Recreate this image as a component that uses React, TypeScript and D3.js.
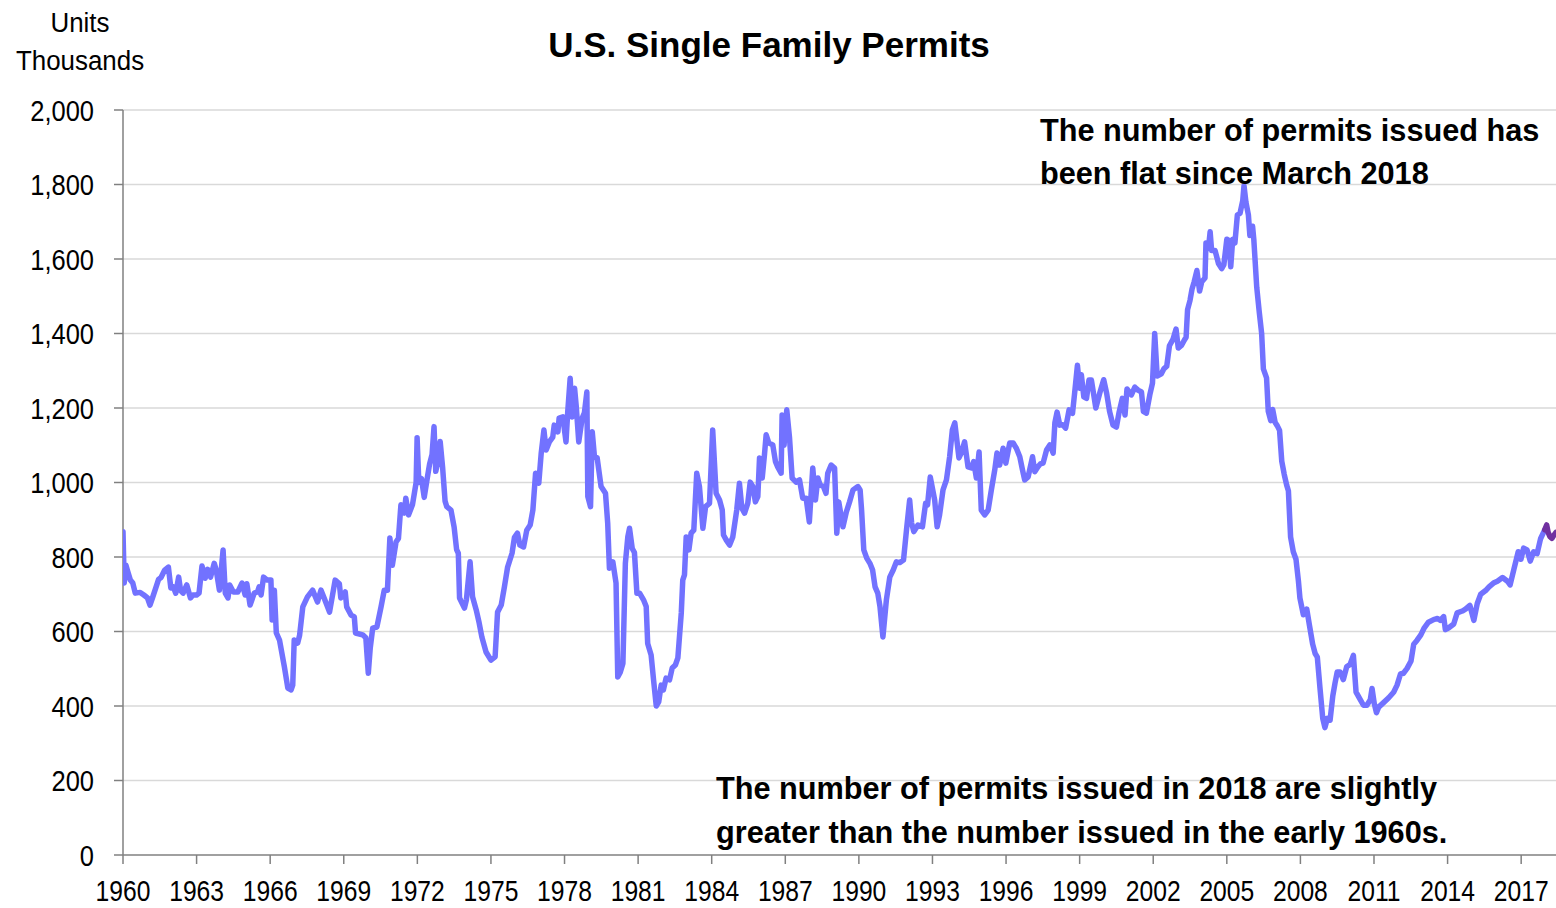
import React, { useEffect, useRef } from 'react';
import * as d3 from 'd3';

type Pt = [number, number]; // [decimal year, thousands of units]

const permits1960s: Pt[] = [
  [1960.0, 868], [1960.05, 730], [1960.12, 778], [1960.2, 760], [1960.3, 738], [1960.4, 730], [1960.5, 703],
  [1960.7, 705], [1960.85, 698], [1961.0, 690], [1961.1, 671], [1961.2, 690], [1961.35, 720], [1961.45, 740],
  [1961.55, 745], [1961.7, 765], [1961.85, 773], [1961.95, 717], [1962.05, 720], [1962.15, 703], [1962.27, 746],
  [1962.35, 710], [1962.45, 703], [1962.6, 725], [1962.75, 690], [1962.85, 698], [1963.0, 698], [1963.1, 703],
  [1963.22, 776], [1963.35, 743], [1963.45, 767], [1963.57, 746], [1963.72, 783], [1963.8, 765], [1963.93, 711],
  [1964.08, 819], [1964.17, 703], [1964.28, 690], [1964.35, 725], [1964.5, 706], [1964.68, 706], [1964.85, 730],
  [1964.98, 698], [1965.05, 728], [1965.18, 671], [1965.35, 703], [1965.48, 706], [1965.55, 720], [1965.63, 698],
  [1965.73, 746], [1965.88, 738], [1966.03, 738], [1966.08, 631], [1966.17, 711], [1966.25, 596], [1966.38, 577],
  [1966.58, 505], [1966.72, 448], [1966.85, 443], [1966.92, 456], [1966.98, 577], [1967.12, 569], [1967.2, 590],
  [1967.33, 666], [1967.52, 693], [1967.73, 711], [1967.93, 679], [1968.07, 711], [1968.2, 690], [1968.42, 652],
  [1968.65, 738], [1968.82, 728], [1968.88, 690], [1969.06, 706], [1969.12, 666], [1969.3, 644], [1969.43, 639],
  [1969.48, 596], [1969.77, 591], [1969.9, 583],
];

const permits1970s: Pt[] = [
  [1970.0, 488], [1970.08, 556], [1970.18, 609], [1970.35, 612], [1970.52, 666], [1970.65, 711], [1970.78, 711],
  [1970.88, 851], [1970.98, 778], [1971.13, 840], [1971.23, 850], [1971.33, 940], [1971.47, 918], [1971.53, 958],
  [1971.64, 913], [1971.8, 940], [1971.88, 972], [1971.95, 1000], [1971.99, 1120], [1972.06, 1000], [1972.17, 1010],
  [1972.28, 960], [1972.4, 1010], [1972.5, 1050], [1972.6, 1075], [1972.68, 1150], [1972.75, 1030], [1972.85, 1060],
  [1972.93, 1110], [1973.03, 1040], [1973.13, 950], [1973.2, 935], [1973.37, 926], [1973.5, 880], [1973.6, 820],
  [1973.67, 810], [1973.72, 690], [1973.92, 663], [1974.0, 685], [1974.15, 787], [1974.25, 693], [1974.4, 658],
  [1974.52, 623], [1974.63, 585], [1974.8, 545], [1975.0, 523], [1975.17, 532], [1975.27, 652], [1975.42, 671],
  [1975.55, 720], [1975.68, 773], [1975.86, 810], [1975.96, 853], [1976.08, 864], [1976.18, 832], [1976.33, 827],
  [1976.46, 872], [1976.6, 886], [1976.71, 926], [1976.82, 1025], [1976.95, 998], [1977.05, 1079], [1977.16, 1141],
  [1977.25, 1087], [1977.38, 1109], [1977.52, 1122], [1977.58, 1154], [1977.73, 1136], [1977.78, 1173],
  [1977.93, 1176], [1978.06, 1109], [1978.13, 1189], [1978.23, 1280], [1978.31, 1176], [1978.41, 1253],
  [1978.48, 1203], [1978.58, 1109], [1978.72, 1173], [1978.81, 1187], [1978.91, 1243], [1978.95, 962],
  [1979.06, 935], [1979.13, 1136], [1979.22, 1069], [1979.33, 1066], [1979.49, 989], [1979.67, 971],
  [1979.76, 891], [1979.83, 770], [1979.97, 787],
];

const permits1980s: Pt[] = [
  [1980.1, 730], [1980.17, 478], [1980.27, 490], [1980.38, 514], [1980.48, 783], [1980.58, 854], [1980.65, 877],
  [1980.76, 823], [1980.85, 812], [1980.95, 703], [1981.06, 703], [1981.22, 685], [1981.33, 667], [1981.39, 568],
  [1981.53, 537], [1981.63, 470], [1981.74, 400], [1981.84, 411], [1981.94, 456], [1982.03, 443], [1982.14, 475],
  [1982.28, 470], [1982.39, 502], [1982.52, 510], [1982.62, 529], [1982.76, 650], [1982.82, 738], [1982.89, 752],
  [1982.96, 854], [1983.07, 819], [1983.16, 864], [1983.27, 872], [1983.39, 1025], [1983.5, 989], [1983.64, 877],
  [1983.75, 935], [1983.91, 944], [1984.04, 1141], [1984.18, 971], [1984.32, 953], [1984.43, 926], [1984.48, 859],
  [1984.59, 846], [1984.73, 832], [1984.86, 854], [1985.02, 926], [1985.13, 998], [1985.23, 931], [1985.34, 918],
  [1985.47, 944], [1985.57, 1001], [1985.68, 989], [1985.78, 948], [1985.88, 962], [1985.95, 1066], [1986.06, 1012],
  [1986.15, 1074], [1986.22, 1128], [1986.33, 1106], [1986.49, 1101], [1986.6, 1056], [1986.69, 1042],
  [1986.83, 1025], [1986.87, 1181], [1986.95, 1100], [1987.06, 1195], [1987.17, 1122], [1987.28, 1012],
  [1987.44, 1001], [1987.58, 1007], [1987.71, 958], [1987.85, 958], [1987.98, 894], [1988.12, 1039],
  [1988.23, 953], [1988.33, 1012], [1988.42, 993], [1988.55, 990], [1988.66, 971], [1988.73, 1025],
  [1988.87, 1047], [1989.01, 1039], [1989.1, 864], [1989.18, 948], [1989.35, 881], [1989.49, 921],
  [1989.62, 948], [1989.76, 980], [1989.96, 989],
];

const permits1990s: Pt[] = [
  [1990.05, 980], [1990.11, 926], [1990.2, 819], [1990.32, 797], [1990.45, 783], [1990.56, 765], [1990.66, 720],
  [1990.77, 703], [1990.86, 667], [1990.98, 585], [1991.12, 684], [1991.26, 746], [1991.4, 765], [1991.53, 787],
  [1991.66, 785], [1991.82, 792], [1991.94, 872], [1992.07, 953], [1992.15, 891], [1992.24, 868], [1992.41, 886],
  [1992.59, 881], [1992.72, 944], [1992.8, 940], [1992.91, 1015], [1993.09, 953], [1993.19, 881], [1993.29, 913],
  [1993.43, 980], [1993.57, 1007], [1993.7, 1069], [1993.81, 1141], [1993.91, 1160], [1994.08, 1066],
  [1994.18, 1080], [1994.31, 1109], [1994.45, 1042], [1994.59, 1039], [1994.68, 1056], [1994.79, 1012],
  [1994.9, 1082], [1994.99, 926], [1995.13, 913], [1995.27, 926], [1995.4, 980], [1995.54, 1034], [1995.63, 1079],
  [1995.74, 1047], [1995.88, 1092], [1995.99, 1052], [1996.15, 1106], [1996.29, 1106], [1996.42, 1092],
  [1996.56, 1069], [1996.67, 1034], [1996.76, 1007], [1996.9, 1015], [1997.08, 1069], [1997.17, 1029],
  [1997.3, 1042], [1997.4, 1050], [1997.51, 1052], [1997.65, 1087], [1997.79, 1101], [1997.92, 1079],
  [1997.99, 1160], [1998.08, 1189], [1998.19, 1154], [1998.31, 1155], [1998.43, 1146], [1998.57, 1195],
  [1998.71, 1186], [1998.8, 1243], [1998.91, 1315], [1999.0, 1253], [1999.07, 1289], [1999.17, 1230],
  [1999.28, 1226], [1999.38, 1275], [1999.48, 1275], [1999.66, 1200], [1999.82, 1240], [1999.98, 1276],
];

const permits2000s: Pt[] = [
  [2000.1, 1240], [2000.22, 1191], [2000.36, 1154], [2000.5, 1149], [2000.61, 1189], [2000.74, 1226],
  [2000.85, 1181], [2000.93, 1251], [2001.11, 1235], [2001.25, 1256], [2001.38, 1248], [2001.52, 1243],
  [2001.6, 1191], [2001.72, 1186], [2001.86, 1235], [2001.97, 1267], [2002.06, 1400], [2002.16, 1286],
  [2002.33, 1292], [2002.43, 1305], [2002.55, 1312], [2002.66, 1367], [2002.81, 1385], [2002.93, 1412],
  [2003.02, 1361], [2003.15, 1368], [2003.25, 1380], [2003.34, 1390], [2003.4, 1464], [2003.5, 1489],
  [2003.58, 1519], [2003.67, 1539], [2003.78, 1569], [2003.89, 1514], [2003.98, 1539], [2004.11, 1549],
  [2004.15, 1643], [2004.25, 1628], [2004.32, 1673], [2004.38, 1623], [2004.52, 1623], [2004.66, 1588],
  [2004.79, 1574], [2004.88, 1585], [2005.0, 1653], [2005.08, 1650], [2005.16, 1579], [2005.24, 1653],
  [2005.33, 1643], [2005.43, 1718], [2005.54, 1723], [2005.65, 1757], [2005.7, 1797], [2005.78, 1752],
  [2005.88, 1718], [2005.94, 1663], [2006.05, 1688], [2006.1, 1653], [2006.22, 1524], [2006.32, 1459],
  [2006.42, 1400], [2006.49, 1305], [2006.62, 1281], [2006.69, 1191], [2006.79, 1166], [2006.87, 1196],
  [2006.97, 1161], [2007.06, 1152], [2007.15, 1140], [2007.24, 1057], [2007.34, 1022], [2007.44, 993],
  [2007.51, 978], [2007.6, 854], [2007.71, 814], [2007.82, 794], [2007.92, 735], [2007.98, 690], [2008.12, 645],
  [2008.26, 660], [2008.37, 616], [2008.5, 566], [2008.6, 541], [2008.69, 531], [2008.8, 447], [2008.91, 367],
  [2009.0, 342], [2009.1, 367], [2009.21, 362], [2009.32, 427], [2009.41, 461], [2009.5, 491], [2009.62, 491],
  [2009.75, 471], [2009.89, 506],
];

const permits2010s: Pt[] = [
  [2010.02, 511], [2010.16, 536], [2010.27, 437], [2010.4, 422], [2010.57, 402], [2010.71, 402], [2010.85, 417],
  [2010.92, 447], [2011.01, 407], [2011.1, 382], [2011.19, 397], [2011.39, 409], [2011.6, 422], [2011.8, 437],
  [2011.94, 456], [2012.08, 486], [2012.2, 488], [2012.35, 501], [2012.51, 521], [2012.62, 566], [2012.75, 576],
  [2012.91, 591], [2013.05, 610], [2013.22, 625], [2013.43, 632], [2013.59, 635], [2013.7, 630], [2013.84, 640],
  [2013.91, 605], [2014.05, 610], [2014.25, 620], [2014.39, 650], [2014.6, 655], [2014.73, 660], [2014.91, 670],
  [2015.07, 630], [2015.21, 675], [2015.35, 700], [2015.55, 710], [2015.69, 720], [2015.87, 730], [2016.03, 735],
  [2016.24, 745], [2016.44, 735], [2016.55, 725], [2016.71, 769], [2016.88, 814], [2016.99, 794], [2017.1, 824],
  [2017.24, 819], [2017.37, 789], [2017.51, 814], [2017.65, 809], [2017.79, 849], [2017.96, 873],
];

// highlighted 2018 segment (drawn in purple)
const permits2018: Pt[] = [
  [2017.96, 873], [2018.04, 886], [2018.1, 866], [2018.17, 855], [2018.25, 850], [2018.33, 858], [2018.42, 866],
];

const yTicks = [0, 200, 400, 600, 800, 1000, 1200, 1400, 1600, 1800, 2000];
const xTickYears = [1960, 1963, 1966, 1969, 1972, 1975, 1978, 1981, 1984, 1987, 1990, 1993, 1996, 1999, 2002, 2005, 2008, 2011, 2014, 2017];

const title = 'U.S. Single Family Permits';
const unitLabel = ['Units', 'Thousands'];
const noteTop = ['The number of permits issued has', 'been flat since March 2018'];
const noteBottom = ['The number of permits issued in 2018 are slightly', 'greater than the number issued in the early 1960s.'];

const FONT = "'Liberation Sans Narrow', 'Arial Narrow', 'Liberation Sans', Arial, sans-serif";

type Sel = d3.Selection<SVGGElement, unknown, null, undefined> | d3.Selection<SVGSVGElement, unknown, null, undefined>;

// text squeezed horizontally, to mimic the narrow face of the original
function addText(parent: Sel, x: number, y: number, str: string, size: number, opts: { anchor?: string; bold?: boolean; sx?: number; dy?: string } = {}) {
  const g = (parent as any).append('g').attr('transform', `translate(${x},${y}) scale(${opts.sx ?? 1},1)`);
  g.append('text')
    .attr('dy', opts.dy ?? null)
    .style('text-anchor', opts.anchor ?? 'start')
    .style('font-family', FONT)
    .style('font-size', `${size}px`)
    .style('font-weight', opts.bold ? 'bold' : 'normal')
    .style('fill', 'black')
    .text(str);
}

const PermitsChart: React.FC = () => {
  const svgRef = useRef<SVGSVGElement>(null);

  useEffect(() => {
    if (!svgRef.current) return;
    const width = 1556;
    const height = 908;
    const margin = { top: 110, right: 0, bottom: 53, left: 123 };

    const svg = d3.select(svgRef.current).attr('width', width).attr('height', height);
    svg.selectAll('*').remove();

    svg.append('rect').attr('width', width).attr('height', height).style('fill', 'white');

    const x = d3.scaleLinear().domain([1960, 2018.42]).range([margin.left, width - margin.right]);
    const y = d3.scaleLinear().domain([0, 2000]).range([height - margin.bottom, margin.top]);

    svg.append('defs').append('clipPath').attr('id', 'plot-clip')
      .append('rect')
      .attr('x', margin.left).attr('y', 0)
      .attr('width', width - margin.left - margin.right).attr('height', height);

    // gridlines
    svg.append('g').selectAll('line')
      .data(yTicks.filter(d => d > 0))
      .enter().append('line')
      .attr('x1', margin.left).attr('x2', width - margin.right)
      .attr('y1', d => y(d)).attr('y2', d => y(d))
      .style('stroke', '#d9d9d9').style('stroke-width', 1.5);

    // y axis
    const yAxis = svg.append('g');
    yAxis.append('line')
      .attr('x1', x(1960)).attr('x2', x(1960))
      .attr('y1', y(0)).attr('y2', y(2000))
      .style('stroke', '#808080').style('stroke-width', 1.5);
    yAxis.selectAll('.ytick')
      .data(yTicks).enter().append('line')
      .attr('x1', margin.left - 9).attr('x2', margin.left)
      .attr('y1', d => y(d)).attr('y2', d => y(d))
      .style('stroke', '#808080').style('stroke-width', 1.5);
    yTicks.forEach(d => addText(yAxis, 94, y(d), d3.format(',')(d), 30, { anchor: 'end', sx: 0.85, dy: '0.36em' }));

    // x axis
    const xAxis = svg.append('g');
    xAxis.append('line')
      .attr('x1', margin.left).attr('x2', width - margin.right)
      .attr('y1', y(0)).attr('y2', y(0))
      .style('stroke', '#808080').style('stroke-width', 1.5);
    xAxis.selectAll('.xtick')
      .data(xTickYears).enter().append('line')
      .attr('x1', d => x(d)).attr('x2', d => x(d))
      .attr('y1', y(0)).attr('y2', y(0) + 9)
      .style('stroke', '#808080').style('stroke-width', 1.5);
    xTickYears.forEach(d => addText(xAxis, x(d), 901, String(d), 29, { anchor: 'middle', sx: 0.85 }));

    const line = d3.line<Pt>().x(d => x(d[0])).y(d => y(d[1]));
    const mainSeries = [...permits1960s, ...permits1970s, ...permits1980s, ...permits1990s, ...permits2000s, ...permits2010s];

    const plot = svg.append('g').attr('clip-path', 'url(#plot-clip)');
    plot.append('path')
      .datum(mainSeries)
      .attr('d', line)
      .style('fill', 'none').style('stroke', '#7272ff')
      .style('stroke-width', 5.5).style('stroke-linejoin', 'round').style('stroke-linecap', 'round');
    plot.append('path')
      .datum(permits2018)
      .attr('d', line)
      .style('fill', 'none').style('stroke', '#7030a0')
      .style('stroke-width', 5.5).style('stroke-linejoin', 'round').style('stroke-linecap', 'round');

    // title and unit label
    const labels = svg.append('g');
    addText(labels, 769, 57, title, 35, { anchor: 'middle', bold: true, sx: 1.0 });
    unitLabel.forEach((t, i) => addText(labels, 80, 32 + i * 38, t, 27, { anchor: 'middle', sx: 0.96 }));

    // annotations
    noteTop.forEach((t, i) => addText(labels, 1040, 141 + i * 43, t, 31, { bold: true, sx: 0.99 }));
    noteBottom.forEach((t, i) => addText(labels, 716, 799 + i * 44, t, 31, { bold: true, sx: 0.99 }));
  }, []);

  return <svg ref={svgRef} style={{ position: 'absolute', left: 0, top: 0 }}></svg>;
};

export default function App() {
  return (
    <div>
      <PermitsChart />
    </div>
  );
}
